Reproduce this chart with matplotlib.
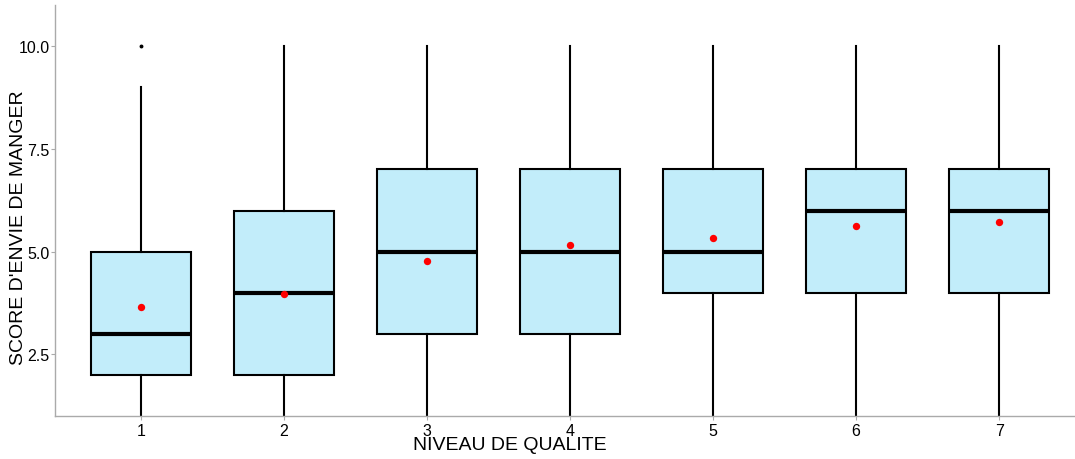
import matplotlib
matplotlib.use("Agg")
import matplotlib.pyplot as plt

plt.rcParams["font.family"] = ["Liberation Sans", "DejaVu Sans"]

categories = ["1", "2", "3", "4", "5", "6", "7"]
whisker_low = [1, 1, 1, 1, 1, 1, 1]
q1 = [2, 2, 3, 3, 4, 4, 4]
median = [3, 4, 5, 5, 5, 6, 6]
q3 = [5, 6, 7, 7, 7, 7, 7]
whisker_high = [9, 10, 10, 10, 10, 10, 10]
means = [3.66, 3.97, 4.77, 5.16, 5.33, 5.62, 5.72]
outliers = [[10], [], [], [], [], [], []]
yticks = [2.5, 5.0, 7.5, 10.0]

W, H = 1075, 460
fig = plt.figure(figsize=(W / 100, H / 100), dpi=100)
ax = fig.add_axes([55 / W, 43 / H, 1020 / W, 411 / H])

stats = []
for i, c in enumerate(categories):
    stats.append(dict(label=c, whislo=whisker_low[i], q1=q1[i], med=median[i],
                      q3=q3[i], whishi=whisker_high[i], fliers=outliers[i]))
pos = list(range(1, len(categories) + 1))
ax.bxp(stats, positions=pos, widths=0.7, patch_artist=True, showcaps=False,
       boxprops=dict(facecolor="#C2EDFA", edgecolor="black", linewidth=1.5),
       medianprops=dict(color="black", linewidth=3),
       whiskerprops=dict(color="black", linewidth=1.5),
       flierprops=dict(marker="o", markersize=1.8, markerfacecolor="black",
                       markeredgecolor="black"))
ax.scatter(pos, means, color="red", s=28, zorder=5, linewidths=0)

ax.set_xlim(0.4, 7.53)
ax.set_ylim(1.0, 11.0)
ax.set_yticks(yticks)
ax.set_yticklabels([f"{v:.1f}" for v in yticks])
ax.set_xticks(pos)
ax.set_xticklabels(categories)
for s in ["top", "right"]:
    ax.spines[s].set_visible(False)
for s in ["left", "bottom"]:
    ax.spines[s].set_color("#aaaaaa")
    ax.spines[s].set_linewidth(1.0)
ax.tick_params(axis="both", colors="#aaaaaa", labelcolor="black", labelsize=11.5, length=3)
ax.tick_params(axis="y", pad=1)
ax.tick_params(axis="x", pad=2)

fig.text(510 / W, 1 - 446 / H, "NIVEAU DE QUALITE", fontsize=14,
         ha="center", va="center")
fig.text(19 / W, 1 - 228 / H, "SCORE D'ENVIE DE MANGER", fontsize=14,
         ha="center", va="center", rotation=90)

fig.savefig("out.png", dpi=100)
